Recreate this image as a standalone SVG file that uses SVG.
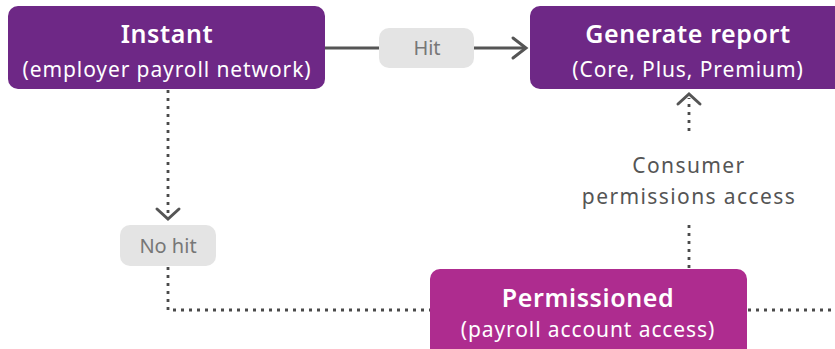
<svg xmlns="http://www.w3.org/2000/svg" width="835" height="349" viewBox="0 0 835 349">
  <style>
    .node-a { fill: #6e2886; }
    .node-b { fill: #ae2c8f; }
    .pill { fill: #e4e4e4; }
    .title { font-family: "Noto Sans", "Liberation Sans", sans-serif; font-weight: 600; font-size: 25px; fill: #ffffff; text-anchor: middle; letter-spacing: 0.6px; }
    .sub { font-family: "Noto Sans", "Liberation Sans", sans-serif; font-size: 21px; fill: #ffffff; text-anchor: middle; letter-spacing: 0.9px; }
    .lbl { font-family: "Noto Sans", "Liberation Sans", sans-serif; font-size: 20px; fill: #777777; text-anchor: middle; }
    .cap { font-family: "Noto Sans", "Liberation Sans", sans-serif; font-size: 21px; fill: #555555; text-anchor: middle; letter-spacing: 1.4px; }
    .solid { stroke: #555555; stroke-width: 3; fill: none; }
    .dot { stroke: #4a4a4a; stroke-width: 2.8; fill: none; stroke-dasharray: 3 5; }
    .head { stroke: #555555; stroke-width: 3; fill: none; stroke-linecap: round; stroke-linejoin: miter; }
  </style>

  <g id="connectors">
    <!-- Instant to Generate report (hit) -->
    <line class="solid" x1="325" y1="48" x2="379" y2="48"/>
    <line class="solid" x1="474" y1="48" x2="526" y2="48"/>
    <polyline class="head" points="513,38 526,48 513,58"/>
    <!-- Instant down to No hit -->
    <line class="dot" x1="168" y1="90" x2="168" y2="214"/>
    <polyline class="head" points="157,209 168,219 179,209"/>
    <!-- No hit to Permissioned -->
    <polyline class="dot" points="168,267 168,310 430,310"/>
    <!-- Permissioned onward to the right -->
    <line class="dot" x1="748" y1="310" x2="835" y2="310"/>
    <!-- Permissioned up to Generate report -->
    <line class="dot" x1="689" y1="268" x2="689" y2="223"/>
    <line class="dot" x1="689" y1="131" x2="689" y2="98"/>
    <polyline class="head" points="678,104 689,94 700,104"/>
  </g>

  <g id="hit">
    <rect class="pill" x="379" y="28" width="95" height="40" rx="10"/>
    <text class="lbl" x="427" y="55">Hit</text>
  </g>

  <g id="no-hit">
    <rect class="pill" x="120" y="225" width="96" height="41" rx="10"/>
    <text class="lbl" x="168" y="253">No hit</text>
  </g>

  <g id="consumer-permissions">
    <text class="cap" x="689" y="173">Consumer</text>
    <text class="cap" x="689" y="204">permissions access</text>
  </g>

  <g id="instant">
    <rect class="node-a" x="8" y="6" width="317" height="83" rx="10"/>
    <text class="title" x="167" y="43">Instant</text>
    <text class="sub" x="167" y="77">(employer payroll network)</text>
  </g>

  <g id="generate-report">
    <rect class="node-a" x="530" y="6" width="315" height="83" rx="10"/>
    <text class="title" x="688" y="43">Generate report</text>
    <text class="sub" x="688" y="77">(Core, Plus, Premium)</text>
  </g>

  <g id="permissioned">
    <rect class="node-b" x="430" y="269" width="317" height="90" rx="10"/>
    <text class="title" x="588" y="307">Permissioned</text>
    <text class="sub" x="588" y="337">(payroll account access)</text>
  </g>
</svg>
